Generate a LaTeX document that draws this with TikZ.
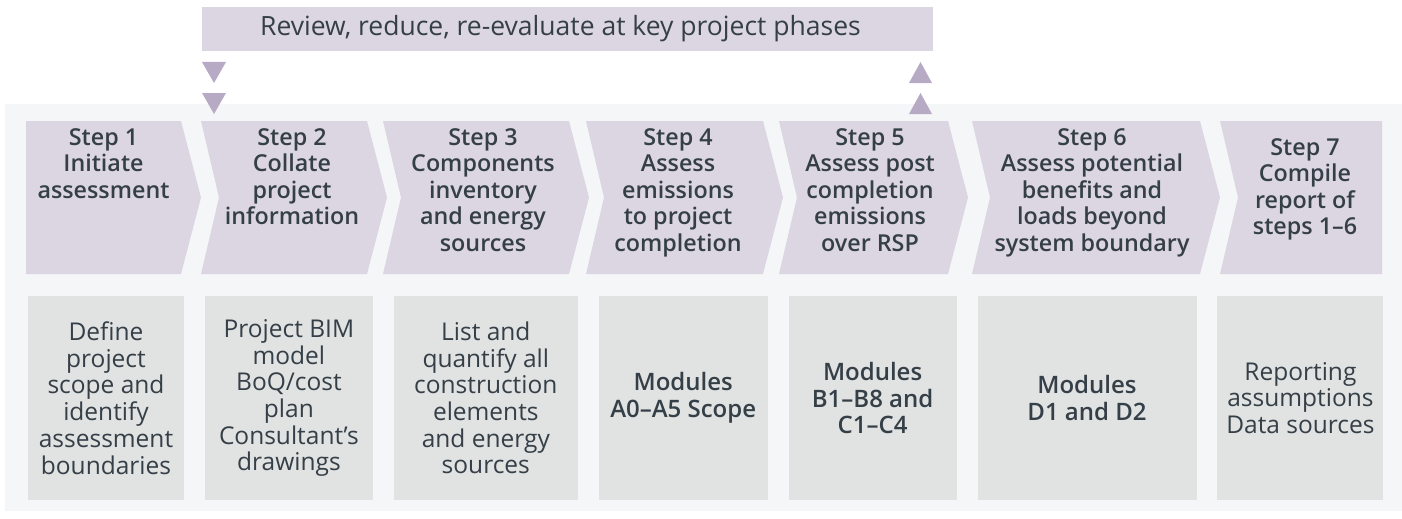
\documentclass[tikz,border=0pt]{standalone}
\usepackage{fontspec}
\setmainfont{Open Sans}
\IfFontExistsTF{Open Sans SemiBold}{\newfontfamily\semib{Open Sans SemiBold}}{%
  \IfFontExistsTF{Open Sans Semibold}{\newfontfamily\semib{Open Sans Semibold}}{%
    \IfFontExistsTF{OpenSans-SemiBold}{\newfontfamily\semib{OpenSans-SemiBold}}{%
      \newcommand\semib{\bfseries}}}}
\usetikzlibrary{positioning}
\definecolor{lilac}{HTML}{DCD6E3}
\definecolor{lilacdark}{HTML}{B7AAC4}
\definecolor{panel}{HTML}{F5F6F8}
\definecolor{boxgrey}{HTML}{E1E2E2}
\definecolor{ink}{HTML}{353F47}

\begin{document}
\begin{tikzpicture}[x=1pt,y=-1pt,
stepfill/.style={fill=lilac},
marker/.style={fill=lilacdark},
banner/.style={fill=lilac, minimum width=731pt, minimum height=44pt, inner sep=0pt, text=ink, font=\fontsize{26.5}{30}\selectfont},
steptext/.style={anchor=north, align=center, inner sep=0pt, text=ink, font=\fontsize{23.3}{26.5}\selectfont\semib},
infobox/.style={fill=boxgrey, align=center, inner sep=0pt, text=ink, minimum height=204pt, font=\fontsize{24.5}{26.7}\selectfont},
keybox/.style={infobox, font=\fontsize{24}{26.7}\selectfont\semib},
]
\useasboundingbox (0,0) rectangle (1402,519);

%Panel
\fill[panel] (5,104) rectangle (1402,511);

%Banner and markers
\node[banner] (review) at (567.5,29) {Review, reduce, re-evaluate at key project phases\hspace*{14pt}};
\foreach \y in {62,93}{
  \fill[marker] (202,\y) -- ++(24,0) -- ++(-12,21) -- cycle;
  \fill[marker] (909,\y+21) -- ++(23,0) -- ++(-11.5,-21) -- cycle;
}

%Chevrons
\fill[stepfill] (26,121) -- (181,121) -- (201,197.5) -- (181,274) -- (26,274) -- cycle;
\foreach \l/\r in {201/367,383/569,586/763,779/948,972/1200}
  \fill[stepfill] (\l,121) -- (\r,121) -- (\r+20,197.5) -- (\r,274) -- (\l,274) -- (\l+18,197.5) -- cycle;
\fill[stepfill] (1220,121) -- (1382,121) -- (1382,274) -- (1220,274) -- (1238,197.5) -- cycle;

%Step titles
\node[steptext] (s1) at (103.5,128) {Step 1\\Initiate\\assessment};
\node[steptext] (s2) at (292,128) {Step 2\\Collate\\project\\information};
\node[steptext] (s3) at (483,128) {Step 3\\Components\\inventory\\and energy\\sources};
\node[steptext] (s4) at (678,128) {Step 4\\Assess\\emissions\\to project\\completion};
\node[steptext] (s5) at (870,128) {Step 5\\Assess post\\completion\\emissions\\over RSP};
\node[steptext] (s6) at (1092,128) {Step 6\\Assess potential\\benefits and\\loads beyond\\system boundary};
\node[steptext] (s7) at (1305,138) {Step 7\\Compile\\report of\\steps 1–6};

%Detail boxes
\node[infobox, minimum width=156pt] (b1) at (106,398) {Define\\project\\scope and\\identify\\assessment\\boundaries};
\node[infobox, minimum width=168pt, right=20.5pt of b1] (b2) {Project BIM\\model\\BoQ/cost\\plan\\Consultant’s\\drawings};
\node[infobox, minimum width=184pt, right=20.5pt of b2] (b3) {List and\\quantify all\\construction\\elements\\and energy\\sources};
\node[keybox, minimum width=169pt, right=20.5pt of b3] (b4) {Modules\\A0–A5 Scope};
\node[keybox, minimum width=168pt, right=20.5pt of b4] (b5) {Modules\\B1–B8 and\\C1–C4};
\node[keybox, minimum width=219pt, right=20.5pt of b5] (b6) {Modules\\D1 and D2};
\node[infobox, minimum width=166pt, right=20.5pt of b6] (b7) {Reporting\\assumptions\\Data sources};
\end{tikzpicture}
\end{document}
